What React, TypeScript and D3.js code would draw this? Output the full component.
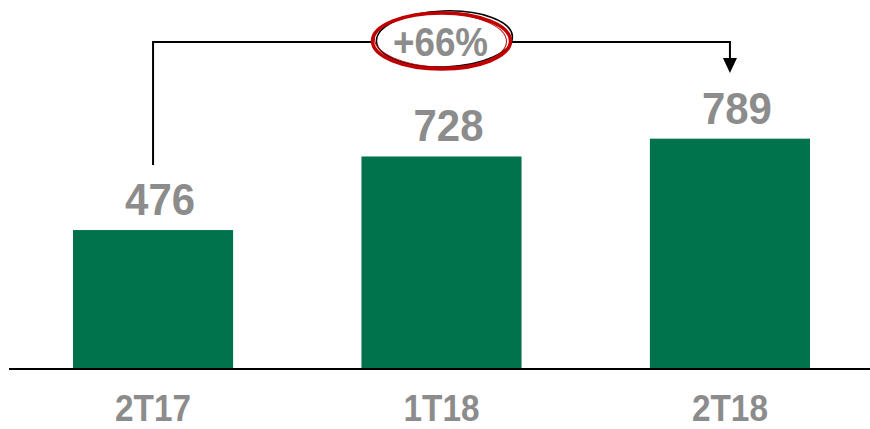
import React from 'react';
import * as d3 from 'd3';

const categories = ['2T17', '1T18', '2T18'];
const values = [476, 728, 789];
const growthLabel = '+66%';

const width = 870;
const height = 429;
const baseline = 369;
const green = '#00724c';
const gray = '#8c8c8c';
const font = '"Liberation Sans", Arial, sans-serif';

const App = () => {
  const x = d3.scaleBand<string>()
    .domain(categories)
    .range([11, 872])
    .paddingInner(0.445)
    .paddingOuter(0.215);

  const y = d3.scaleLinear()
    .domain([0, 1264])
    .range([baseline, 0]);

  const first = categories[0];
  const last = categories[categories.length - 1];
  const x0 = (x(first) as number) + x.bandwidth() / 2;
  const x1 = (x(last) as number) + x.bandwidth() / 2;
  const lineY = 42;
  const cx = (x0 + x1) / 2;

  return (
    <svg width={width} height={height} style={{ position: 'absolute', left: 0, top: 0, background: '#fff' }}>
      {/* bars */}
      {categories.map((c, i) => (
        <rect key={c} x={x(c)} y={y(values[i])} width={x.bandwidth()}
          height={baseline - y(values[i])} fill={green} />
      ))}

      {/* baseline */}
      <line x1={9} x2={870} y1={baseline} y2={baseline} stroke="#000" strokeWidth={2} />

      {/* value labels */}
      {categories.map((c, i) => (
        <text key={c} x={(x(c) as number) + x.bandwidth() / 2 + 7} y={y(values[i]) - 15}
          textAnchor="middle" fontFamily={font} fontWeight="bold" fontSize={44} fill={gray}
          textLength={70} lengthAdjust="spacingAndGlyphs">
          {values[i]}
        </text>
      ))}

      {/* category labels */}
      {categories.map((c) => (
        <text key={c} x={(x(c) as number) + x.bandwidth() / 2} y={421}
          textAnchor="middle" fontFamily={font} fontWeight="bold" fontSize={36} fill={gray}
          textLength={76} lengthAdjust="spacingAndGlyphs">
          {c}
        </text>
      ))}

      {/* growth bracket */}
      <path d={`M${x0},165 V${lineY} H${x1} V58`} fill="none" stroke="#000" strokeWidth={2} />
      <path d={`M${x1 - 7},58 L${x1 + 7},58 L${x1},73 Z`} fill="#000" />

      {/* hand-drawn ellipse */}
      <ellipse cx={cx} cy={40} rx={70} ry={29} fill="#fff" stroke="none" />
      <ellipse cx={cx + 3} cy={39} rx={68} ry={28} fill="none" stroke="#000" strokeWidth={1.5}
        transform={`rotate(-2 ${cx} 40)`} />
      <ellipse cx={cx} cy={41} rx={69} ry={28} fill="none" stroke="#c00000" strokeWidth={3.5} />
      <ellipse cx={cx - 1} cy={40} rx={66} ry={27} fill="none" stroke="#c00000" strokeWidth={1}
        transform={`rotate(1.5 ${cx} 40)`} />
      <text x={cx - 1} y={56} textAnchor="middle" fontFamily={font} fontWeight="bold"
        fontSize={40} fill={gray} textLength={95} lengthAdjust="spacingAndGlyphs">
        {growthLabel}
      </text>
    </svg>
  );
};

export default App;
